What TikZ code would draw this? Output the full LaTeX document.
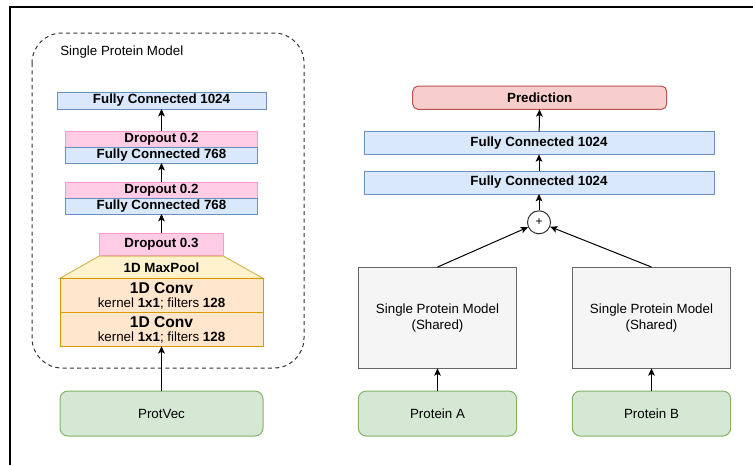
\documentclass[tikz,border=0pt]{standalone}
\usepackage{fontspec}
\setmainfont{Liberation Sans}
\usetikzlibrary{arrows.meta}
\definecolor{bluef}{HTML}{DAE8FC}\definecolor{blues}{HTML}{6C8EBF}
\definecolor{pinkf}{HTML}{FFCCE6}\definecolor{pinks}{HTML}{FF99CC}
\definecolor{yelf}{HTML}{FFF2CC}\definecolor{yels}{HTML}{D6B656}
\definecolor{orgf}{HTML}{FFE6CC}\definecolor{orgs}{HTML}{D79B00}
\definecolor{grnf}{HTML}{D5E8D4}\definecolor{grns}{HTML}{82B366}
\definecolor{redf}{HTML}{F8CECC}\definecolor{reds}{HTML}{B85450}
\definecolor{grayf}{HTML}{F5F5F5}\definecolor{grays}{HTML}{666666}
\tikzset{
  box/.style={draw, line width=0.75pt, inner sep=0pt, outer sep=0pt, align=center,
    font=\fontsize{10}{12.2}\selectfont},
  fcbox/.style={box, fill=bluef, draw=blues, font=\fontsize{10}{12}\selectfont\bfseries},
  dobox/.style={box, fill=pinkf, draw=pinks, font=\fontsize{10}{12}\selectfont\bfseries},
  convbox/.style={box, fill=orgf, draw=orgs},
  inbox/.style={box, fill=grnf, draw=grns, rounded corners=6pt},
  spmbox/.style={box, fill=grayf, draw=grays},
  arr/.style={line width=0.75pt, -{Stealth[length=5.5pt, width=5pt, inset=1.3pt]}},
}
\begin{document}
\begin{tikzpicture}[x=0.75pt, y=-0.75pt]
\useasboundingbox (0,0) rectangle (753,465);
% frame
\draw[line width=1.5pt] (9.5,465) -- (9.5,7.3) -- (753,7.3);
% dashed container
\draw[draw=black!80, line width=0.75pt, dash pattern=on 3pt off 2.5pt, rounded corners=22.5pt]
  (32,33) rectangle (304,368);
\node[anchor=west, font=\fontsize{10}{12}\selectfont, inner sep=0pt] (title) at (60,52) {Single Protein Model};
% left column
\node[fcbox, minimum width={209*0.75pt}, minimum height={17*0.75pt}] (fcL) at (161.5,100.5) {Fully Connected 1024};
\node[dobox, minimum width={192*0.75pt}, minimum height={16*0.75pt}] (do1) at (161.5,139) {Dropout 0.2};
\node[fcbox, minimum width={192*0.75pt}, minimum height={16*0.75pt}] (fc768a) at (161.5,155) {Fully Connected 768};
\node[dobox, minimum width={192*0.75pt}, minimum height={16*0.75pt}] (do2) at (161.5,190) {Dropout 0.2};
\node[fcbox, minimum width={192*0.75pt}, minimum height={16*0.75pt}] (fc768b) at (161.5,206) {Fully Connected 768};
\node[dobox, minimum width={124*0.75pt}, minimum height={22.5*0.75pt}] (do3) at (161.5,244.5) {Dropout 0.3};
\draw[fill=yelf, draw=yels, line width=0.75pt] (99.3,256) -- (223.3,256) -- (263,278.3) -- (60,278.3) -- cycle;
\node[font=\fontsize{10}{12}\selectfont\bfseries, inner sep=0pt] (maxpool) at (161.5,267.5) {1D MaxPool};
\node[convbox, minimum width={203*0.75pt}, minimum height={34*0.75pt}] (conv1) at (161.5,295.2) {};
\node[font=\fontsize{11.7}{13}\selectfont\bfseries, inner sep=0pt] (c1t) at (161.5,288) {1D Conv};
\node[font=\fontsize{10}{12}\selectfont, inner sep=0pt] (c1s) at (161.5,303.5) {kernel \textbf{1x1}; filters \textbf{128}};
\node[convbox, minimum width={203*0.75pt}, minimum height={34*0.75pt}] (conv2) at (161.5,329.2) {};
\node[font=\fontsize{11.7}{13}\selectfont\bfseries, inner sep=0pt] (c2t) at (161.5,322) {1D Conv};
\node[font=\fontsize{10}{12}\selectfont, inner sep=0pt] (c2s) at (161.5,337.5) {kernel \textbf{1x1}; filters \textbf{128}};
\node[inbox, minimum width={203*0.75pt}, minimum height={45*0.75pt}] (protvec) at (161.5,413.5) {ProtVec};
\draw[arr] (do1) -- (fcL);
\draw[arr] (do2) -- (fc768a);
\draw[arr] (do3) -- (fc768b);
\draw[arr] (protvec) -- (conv2);
% right column
\node[box, fill=redf, draw=reds, rounded corners=4pt, font=\fontsize{10}{12}\selectfont\bfseries,
  minimum width={254*0.75pt}, minimum height={23.3*0.75pt}] (pred) at (539.7,97.7) {Prediction};
\node[fcbox, minimum width={350*0.75pt}, minimum height={22.7*0.75pt}] (fcA) at (539,143) {Fully Connected 1024};
\node[fcbox, minimum width={350*0.75pt}, minimum height={23*0.75pt}] (fcB) at (539,182.5) {Fully Connected 1024};
\node[circle, draw=black!80, fill=white, line width=0.75pt, minimum size={23*0.75pt}, inner sep=0pt,
  font=\fontsize{9}{9}\selectfont] (plus) at (539,222.3) {+};
\node[spmbox, minimum width={158.4*0.75pt}, minimum height={101.3*0.75pt}] (spmA) at (437.5,317.7) {Single Protein Model\\(Shared)};
\node[spmbox, minimum width={158.4*0.75pt}, minimum height={101.3*0.75pt}] (spmB) at (651.5,317.7) {Single Protein Model\\(Shared)};
\node[inbox, minimum width={158.4*0.75pt}, minimum height={45*0.75pt}] (protA) at (437.5,413.5) {Protein A};
\node[inbox, minimum width={158.4*0.75pt}, minimum height={45*0.75pt}] (protB) at (651.5,413.5) {Protein B};
\draw[arr] (protA) -- (spmA);
\draw[arr] (protB) -- (spmB);
\draw[arr] (spmA.north) -- (plus);
\draw[arr] (spmB.north) -- (plus);
\draw[arr] (plus) -- (fcB);
\draw[arr] (fcB) -- (fcA);
\draw[arr] (fcA) -- (pred);
\end{tikzpicture}
\end{document}
